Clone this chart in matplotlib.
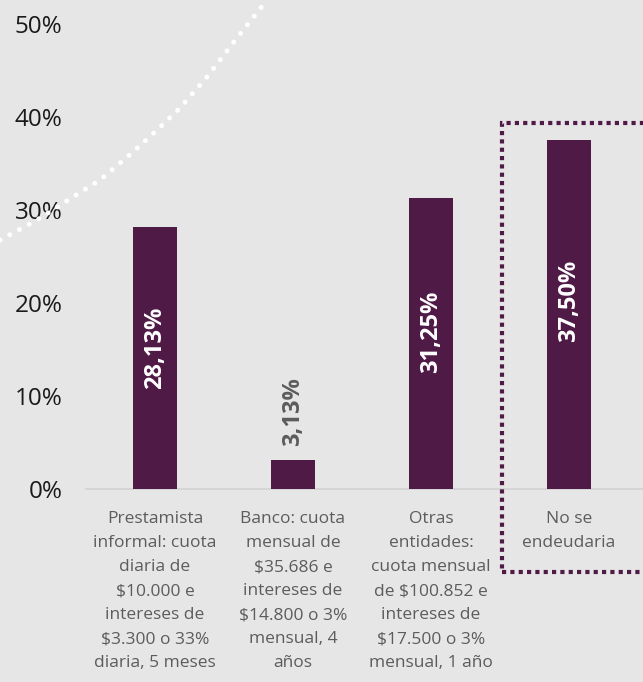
import matplotlib
matplotlib.use("Agg")
import matplotlib.pyplot as plt
from matplotlib.patches import Rectangle
from matplotlib.lines import Line2D
import numpy as np

categories = [
    "Prestamista\ninformal: cuota\ndiaria de\n$10.000 e\nintereses de\n$3.300 o 33%\ndiaria, 5 meses",
    "Banco: cuota\nmensual de\n$35.686 e\nintereses de\n$14.800 o 3%\nmensual, 4\naños",
    "Otras\nentidades:\ncuota mensual\nde $100.852 e\nintereses de\n$17.500 o 3%\nmensual, 1 año",
    "No se\nendeudaria",
]
values = [28.13, 3.13, 31.25, 37.50]
value_labels = ["28,13%", "3,13%", "31,25%", "37,50%"]
yticks = [0, 10, 20, 30, 40, 50]
ytick_labels = ["0%", "10%", "20%", "30%", "40%", "50%"]

BG = "#e6e6e6"
PURPLE = "#501a47"
GRAY = "#5c5c5c"
FONT = ["Open Sans", "DejaVu Sans"]

plt.rcParams["font.family"] = FONT

fig = plt.figure(figsize=(6.43, 6.82), dpi=100, facecolor=BG)
ax = fig.add_axes([86 / 643, (682 - 489) / 682, 552 / 643, 465 / 682])
ax.set_facecolor(BG)

x = np.arange(len(categories))
ax.bar(x, values, width=0.32, color=PURPLE, zorder=3)

ax.set_xlim(-0.5, 3.5)
ax.set_ylim(0, 50)
ax.set_yticks(yticks)
ax.set_yticklabels(ytick_labels, fontsize=17.5, color="#1a1a1a")
ax.set_xticks(x)
ax.set_xticklabels(categories, fontsize=12.5, color=GRAY, linespacing=1.67, va="top")
ax.tick_params(axis="both", length=0)
ax.tick_params(axis="y", pad=17)
ax.tick_params(axis="x", pad=16)

for s in ["top", "right", "left"]:
    ax.spines[s].set_visible(False)
ax.spines["bottom"].set_color("#d2d2d2")
ax.spines["bottom"].set_linewidth(1.2)
ax.spines["bottom"].set_bounds(-0.5, 3.6)
ax.spines["bottom"].set_clip_on(False)

for xi, v, lab in zip(x, values, value_labels):
    if v < 10:
        ax.text(xi, v + 1.5, lab, rotation=90, ha="center", va="bottom",
                fontsize=17, fontweight="bold", color=GRAY, zorder=4)
    else:
        ax.text(xi, v * 0.54, lab, rotation=90, ha="center", va="center",
                fontsize=17, fontweight="bold", color="white", zorder=4)

# dotted highlight rectangle around last category
rect = Rectangle((2.515, -8.9), 1.2, 48.25, fill=False, edgecolor=PURPLE,
                 linewidth=3, linestyle=(0, (1, 1)), clip_on=False, zorder=5)
ax.add_patch(rect)

# decorative dotted white curve (figure pixels -> fraction)
px = np.array([0, 37, 65, 100, 133, 157, 180, 207, 233, 263, 272])
py = np.array([240, 220, 202, 180, 152, 130, 108, 77, 43, 5, -8])
line = Line2D(px / 643, 1 - py / 682, transform=fig.transFigure, color="white",
              linewidth=3.6, linestyle=(0, (0.01, 2.2)), dash_capstyle="round",
              zorder=1)
fig.add_artist(line)

fig.savefig("out.png", dpi=100, facecolor=BG)
